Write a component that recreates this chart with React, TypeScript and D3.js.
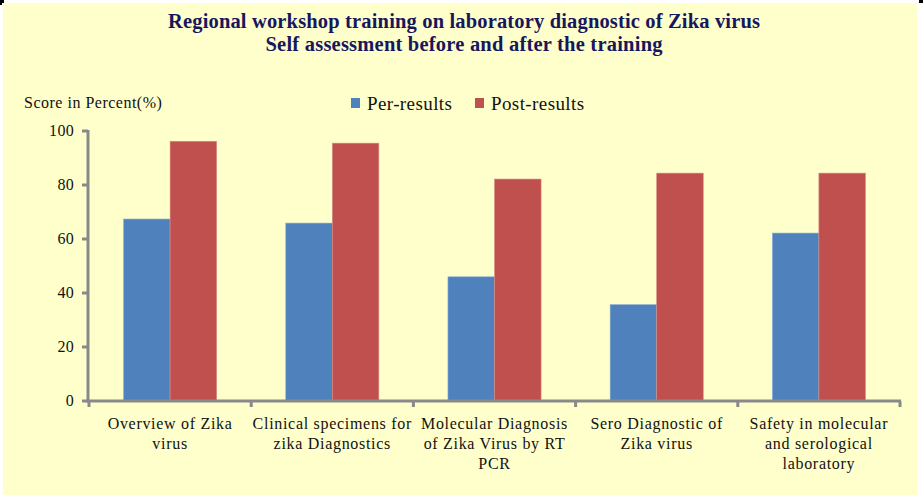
import React from "react";
import * as d3 from "d3";

const categories: string[][] = [
  ["Overview of Zika", "virus"],
  ["Clinical specimens for", "zika Diagnostics"],
  ["Molecular Diagnosis", "of Zika Virus by RT", "PCR"],
  ["Sero Diagnostic of", "Zika virus"],
  ["Safety in molecular", "and serological", "laboratory"],
];
const preResults = [67.4, 65.9, 46.0, 35.7, 62.2];
const postResults = [96.2, 95.5, 82.2, 84.4, 84.4];
const seriesNames = ["Per-results", "Post-results"];
const seriesColors = ["#4F81BD", "#C0504D"];
const yTicks = [0, 20, 40, 60, 80, 100];
const titleLines = [
  "Regional workshop training on laboratory diagnostic of Zika virus",
  "Self assessment before and after the training",
];

const W = 923;
const H = 495;
const FONT = "'Liberation Serif', 'DejaVu Serif', serif";

export default function App() {
  const x0 = d3
    .scaleBand<number>()
    .domain(categories.map((_, i) => i))
    .range([89, 900])
    .paddingInner(0)
    .paddingOuter(0);
  const x1 = d3
    .scaleBand<number>()
    .domain([0, 1])
    .range([0, x0.bandwidth()])
    .paddingInner(0)
    .paddingOuter(0.742);
  const y = d3.scaleLinear().domain([0, 100]).range([401, 131]);
  const series = [preResults, postResults];
  const axisColor = "#898989";

  return (
    <svg
      width={W}
      height={H}
      style={{ position: "absolute", left: 0, top: 0, display: "block" }}
      fontFamily={FONT}
    >
      <rect x={0} y={0} width={W} height={H} fill="#ffffff" />
      <rect x={3} y={3} width={914} height={H - 3} fill="#FFFFCC" />
      <rect x={0} y={0} width={4} height={3} fill="#000" />
      <rect x={0} y={0} width={2} height={5} fill="#000" />
      <rect x={919} y={0} width={4} height={3} fill="#000" />

      {titleLines.map((t, i) => (
        <text
          key={i}
          x={464}
          y={28 + i * 23}
          textAnchor="middle"
          fontSize={20.5}
          fontWeight="bold"
          fill="#17175E"
          textLength={i === 0 ? 592 : 397}
          lengthAdjust="spacing"
        >
          {t}
        </text>
      ))}

      <text x={24} y={108} fontSize={16} fill="#111" letterSpacing={0.5}>
        Score in Percent(%)
      </text>

      {seriesNames.map((n, i) => {
        const lx = i === 0 ? 351 : 475;
        return (
          <g key={n}>
            <rect x={lx} y={98} width={9} height={10} fill={seriesColors[i]} />
            <text x={lx + 16} y={110} fontSize={19} fill="#111" letterSpacing={0.4}>
              {n}
            </text>
          </g>
        );
      })}

      {series.map((vals, s) =>
        vals.map((v, i) => (
          <rect
            key={`${s}-${i}`}
            x={(x0(i) as number) + (x1(s) as number)}
            y={y(v)}
            width={x1.bandwidth()}
            height={y(0) - y(v)}
            fill={seriesColors[s]}
            stroke={s === 0 ? "#8fb0d8" : "#d88a88"}
            strokeWidth={0.6}
          />
        ))
      )}

      {/* y axis */}
      <line x1={88} x2={88} y1={y(100) - 1} y2={y(0) + 1.5} stroke={axisColor} strokeWidth={3} />
      {yTicks.map((t) => (
        <g key={t}>
          <line x1={82} x2={88} y1={y(t)} y2={y(t)} stroke={axisColor} strokeWidth={3} />
          <text x={74} y={y(t) + 5} fontSize={16} textAnchor="end" fill="#111" letterSpacing={0.3}>
            {t}
          </text>
        </g>
      ))}

      {/* x axis */}
      <line x1={86.5} x2={901} y1={y(0)} y2={y(0)} stroke={axisColor} strokeWidth={3} />
      {categories.map((_, i) => (
        <line
          key={i}
          x1={x0(i) as number}
          x2={x0(i) as number}
          y1={y(0)}
          y2={y(0) + 6}
          stroke={axisColor}
          strokeWidth={3}
        />
      ))}
      <line x1={900} x2={900} y1={y(0)} y2={y(0) + 6} stroke={axisColor} strokeWidth={3} />

      {categories.map((lines, i) => (
        <text
          key={i}
          x={(x0(i) as number) + x0.bandwidth() / 2}
          fontSize={16}
          textAnchor="middle"
          fill="#111"
          letterSpacing={0.7}
        >
          {lines.map((l, j) => (
            <tspan key={j} x={(x0(i) as number) + x0.bandwidth() / 2} y={429 + j * 20}>
              {l}
            </tspan>
          ))}
        </text>
      ))}
    </svg>
  );
}
